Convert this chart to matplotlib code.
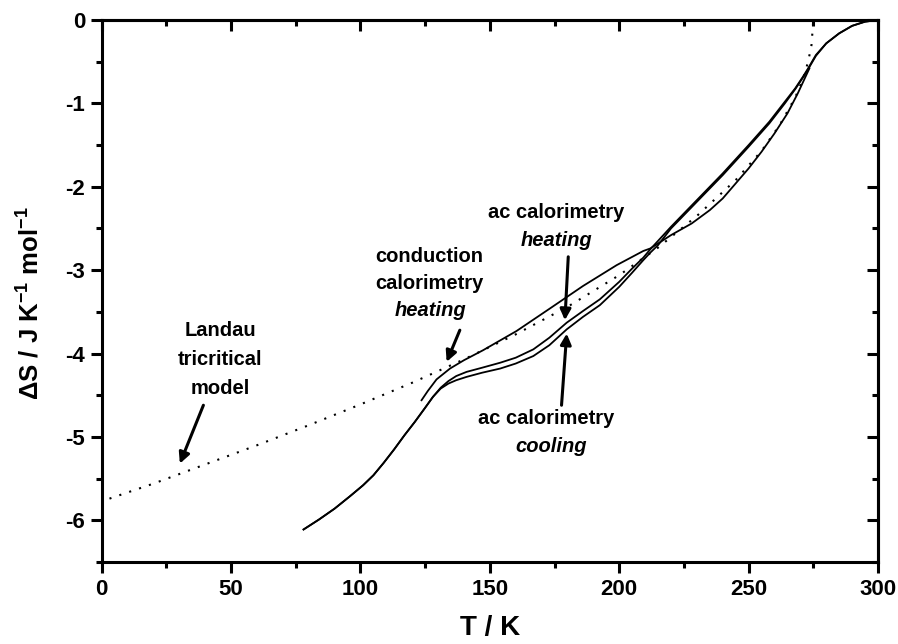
import matplotlib
matplotlib.use("Agg")
import matplotlib.pyplot as plt
from matplotlib.ticker import MultipleLocator

plt.rcParams['font.family'] = ['Liberation Sans', 'DejaVu Sans']
plt.rcParams['font.weight'] = 'bold'
plt.rcParams['mathtext.fontset'] = 'custom'
plt.rcParams['mathtext.rm'] = 'Liberation Sans:bold'
plt.rcParams['mathtext.it'] = 'Liberation Sans:italic:bold'
plt.rcParams['mathtext.bf'] = 'Liberation Sans:bold'
plt.rcParams['mathtext.default'] = 'rm'

# ---------------- data ----------------
landau_T = [3, 20, 40, 60, 80, 100, 120, 140, 160, 180, 200, 215, 230, 245, 255,
            262, 268, 271, 273, 274.3, 275]
landau_S = [-5.74, -5.56, -5.33, -5.10, -4.86, -4.61, -4.35, -4.07, -3.77, -3.44,
            -3.06, -2.73, -2.35, -1.92, -1.57, -1.26, -0.93, -0.71, -0.50, -0.30, 0.0]

cond_T = [123.6, 126, 129.4, 134.6, 140, 147.4, 160.3, 173.2, 186, 199, 209.3, 212,
          220, 228, 235, 240, 245, 250, 255, 260, 265, 269, 272, 273.5]
cond_S = [-4.56, -4.45, -4.31, -4.18, -4.08, -3.96, -3.73, -3.46, -3.19, -2.94, -2.77, -2.74,
          -2.58, -2.44, -2.28, -2.14, -1.96, -1.78, -1.58, -1.36, -1.12, -0.88, -0.68, -0.58]

acheat_T = [78, 84, 90, 96, 101, 105, 109, 113, 117, 121, 125, 128, 131, 134, 137, 141, 147, 154,
            160, 166.8, 173, 179.7, 186, 192.5, 200, 205, 209.3, 212,
            220, 230, 240, 250, 258, 264, 268, 271, 273, 276, 280, 285, 290, 295, 300]
acheat_S = [-6.11, -5.99, -5.86, -5.71, -5.58, -5.46, -5.31, -5.15, -4.98, -4.82, -4.65, -4.52,
            -4.41, -4.33, -4.27, -4.22, -4.17, -4.11,
            -4.05, -3.95, -3.81, -3.63, -3.49, -3.35, -3.14, -2.98, -2.85, -2.75,
            -2.48, -2.16, -1.84, -1.50, -1.22, -0.98, -0.82, -0.68, -0.58, -0.42, -0.28, -0.16, -0.07, -0.02, 0.0]

accool_T = [78, 84, 90, 96, 101, 105, 109, 113, 117, 121, 125, 128, 131, 134, 137, 141, 147, 154,
            160, 166.8, 173, 179.7, 186, 192.5, 200, 205, 209.3, 212, 215,
            220, 230, 240, 250, 258, 264, 268, 271, 273, 276, 280, 285, 290, 295, 300]
accool_S = [-6.11, -5.99, -5.86, -5.71, -5.58, -5.46, -5.31, -5.15, -4.98, -4.82, -4.65, -4.52,
            -4.42, -4.36, -4.32, -4.28, -4.23, -4.18,
            -4.12, -4.03, -3.90, -3.71, -3.56, -3.42, -3.20, -3.03, -2.88, -2.79, -2.70,
            -2.50, -2.18, -1.86, -1.52, -1.24, -1.00, -0.83, -0.69, -0.59, -0.43, -0.28, -0.16, -0.07, -0.02, 0.0]

x_ticks = [0, 50, 100, 150, 200, 250, 300]
y_ticks = [-6, -5, -4, -3, -2, -1, 0]

# ---------------- figure ----------------
W, H = 898, 644
fig = plt.figure(figsize=(W / 100, H / 100), dpi=100)
L, R, T, B = 101.7, 878, 20, 562
ax = fig.add_axes([L / W, 1 - B / H, (R - L) / W, (B - T) / H])

ax.plot(landau_T, landau_S, color='k', lw=1.5, linestyle=(0, (1, 4)))
ax.plot(cond_T, cond_S, color='k', lw=1.3)
ax.plot(acheat_T, acheat_S, color='k', lw=1.3)
ax.plot(accool_T, accool_S, color='k', lw=1.3)

ax.set_xlim(0, 300)
ax.set_ylim(-6.5, 0)
ax.set_xticks(x_ticks)
ax.set_yticks(y_ticks)
ax.set_xticklabels([str(v) for v in x_ticks])
ax.set_yticklabels([str(v) for v in y_ticks])
ax.xaxis.set_minor_locator(MultipleLocator(25))
ax.yaxis.set_minor_locator(MultipleLocator(0.5))

for s in ax.spines.values():
    s.set_linewidth(2.2)

ax.tick_params(which='major', direction='out', length=8, width=2.2,
               labelsize=16, pad=4)
ax.tick_params(which='minor', direction='out', length=4.5, width=2.2)

# inward ticks on top and right
secx = ax.secondary_xaxis('top')
secx.set_xticks(x_ticks)
secx.xaxis.set_minor_locator(MultipleLocator(25))
secx.tick_params(which='major', direction='in', length=8, width=2.2, labeltop=False)
secx.tick_params(which='minor', direction='in', length=4.5, width=2.2)
secx.spines['top'].set_linewidth(2.2)
secy = ax.secondary_yaxis('right')
secy.set_yticks(y_ticks)
secy.yaxis.set_minor_locator(MultipleLocator(0.5))
secy.tick_params(which='major', direction='in', length=8, width=2.2, labelright=False)
secy.tick_params(which='minor', direction='in', length=4.5, width=2.2)
secy.spines['right'].set_linewidth(2.2)

ax.set_xlabel('T / K', fontsize=20, fontweight='bold')
ax.xaxis.set_label_coords(0.5, -0.098)
ax.set_ylabel('\u0394S / J K$^{-1}$ mol$^{-1}$', fontsize=18.5, fontweight='bold')
ax.yaxis.set_label_coords(-0.074, 0.478)

# ---------------- annotations ----------------
fs = 14.5
ax.text(45.7, -3.72, 'Landau', ha='center', va='center', fontsize=fs, fontweight='bold')
ax.text(45.7, -4.07, 'tricritical', ha='center', va='center', fontsize=fs, fontweight='bold')
ax.text(45.7, -4.42, 'model', ha='center', va='center', fontsize=fs, fontweight='bold')

ax.text(126.5, -2.84, 'conduction', ha='center', va='center', fontsize=fs, fontweight='bold')
ax.text(126.5, -3.16, 'calorimetry', ha='center', va='center', fontsize=fs, fontweight='bold')
ax.text(126.9, -3.48, 'heating', ha='center', va='center', fontsize=fs, fontweight='bold',
        fontstyle='italic')

ax.text(175.8, -2.31, 'ac calorimetry', ha='center', va='center', fontsize=fs, fontweight='bold')
ax.text(175.8, -2.64, 'heating', ha='center', va='center', fontsize=fs, fontweight='bold',
        fontstyle='italic')

ax.text(171.9, -4.78, 'ac calorimetry', ha='center', va='center', fontsize=fs, fontweight='bold')
ax.text(173.5, -5.12, 'cooling', ha='center', va='center', fontsize=fs, fontweight='bold',
        fontstyle='italic')

arrow = dict(arrowstyle='-|>', color='k', lw=2.2, mutation_scale=16, shrinkA=0, shrinkB=0)
ax.annotate('', xy=(30.2, -5.32), xytext=(39.3, -4.62), arrowprops=arrow)
ax.annotate('', xy=(133.3, -4.10), xytext=(138.4, -3.72), arrowprops=arrow)
ax.annotate('', xy=(179.0, -3.60), xytext=(180.3, -2.84), arrowprops=arrow)
ax.annotate('', xy=(179.7, -3.76), xytext=(177.7, -4.62), arrowprops=arrow)

fig.savefig('out.png', dpi=100)
